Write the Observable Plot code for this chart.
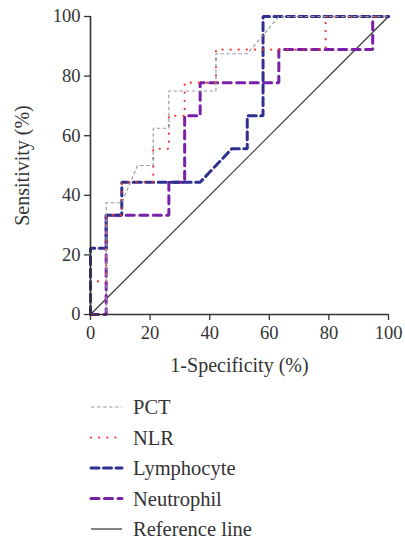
<!DOCTYPE html>
<html><head><meta charset="utf-8">
<script src="https://cdn.jsdelivr.net/npm/d3@7"></script>
<script src="https://cdn.jsdelivr.net/npm/@observablehq/plot@0.6"></script>
<style>
body{margin:0;background:#fff;}
#legend{display:block;}
</style></head><body><div id="chart"></div><div id="legendbox"></div>
<script>
// ROC curves, values in %
const pctX = [0, 5.26, 5.26, 10.5, 15.8, 21.05, 21.05, 26.3, 26.3, 42.1, 42.1, 52.6, 63.2, 100];
const pctY = [0, 0, 37.5, 37.5, 50, 50, 62.5, 62.5, 75, 75, 87.5, 87.5, 100, 100];
const nlrX = [0, 0, 5.26, 5.26, 10.5, 10.5, 21.05, 21.05, 26.3, 26.3, 31.6, 31.6, 42.1, 42.1, 78.9, 78.9, 100];
const nlrY = [0, 11.1, 11.1, 33.3, 33.3, 44.4, 44.4, 55.6, 55.6, 66.7, 66.7, 77.8, 77.8, 88.9, 88.9, 100, 100];
const lymX = [0, 0, 5.26, 5.26, 10.5, 10.5, 36.8, 47.4, 52.6, 52.6, 57.9, 57.9, 100];
const lymY = [0, 22.2, 22.2, 33.3, 33.3, 44.4, 44.4, 55.6, 55.6, 66.7, 66.7, 100, 100];
const neuX = [0, 5.26, 5.26, 26.3, 26.3, 31.6, 31.6, 36.8, 36.8, 63.2, 63.2, 94.7, 94.7, 100];
const neuY = [0, 0, 33.3, 33.3, 44.4, 44.4, 66.7, 66.7, 77.8, 77.8, 88.9, 88.9, 100, 100];
const refX = [0, 100];
const refY = [0, 100];
const xTicks = [0, 20, 40, 60, 80, 100];
const yTicks = [0, 20, 40, 60, 80, 100];
const seriesNames = ["PCT", "NLR", "Lymphocyte", "Neutrophil", "Reference line"];

const FONT = "'Liberation Serif', 'DejaVu Serif', serif";
const styles = {
  "PCT": {stroke: "#9a9a9a", strokeWidth: 1.2, strokeDasharray: "3.5,2.5", strokeLinecap: "butt"},
  "NLR": {stroke: "#e8382e", strokeWidth: 2.2, strokeDasharray: "0.1,8", strokeLinecap: "round"},
  "Lymphocyte": {stroke: "#2f2f8f", strokeWidth: 3, strokeDasharray: "8,4.5", strokeLinecap: "round"},
  "Neutrophil": {stroke: "#7a1fa8", strokeWidth: 3, strokeDasharray: "8,5.5", strokeLinecap: "round"},
  "Reference line": {stroke: "#333", strokeWidth: 1.2, strokeDasharray: null, strokeLinecap: "butt"}
};

const toRows = (xs, ys) => xs.map((x, i) => ({x, y: ys[i]}));
const dataBy = {
  "PCT": toRows(pctX, pctY),
  "NLR": toRows(nlrX, nlrY),
  "Lymphocyte": toRows(lymX, lymY),
  "Neutrophil": toRows(neuX, neuY),
  "Reference line": toRows(refX, refY)
};
const drawOrder = ["Reference line", "Neutrophil", "Lymphocyte", "NLR", "PCT"];

const chart = Plot.plot({
  width: 405,
  height: 385,
  marginLeft: 90,
  marginRight: 17,
  marginTop: 16,
  marginBottom: 71,
  style: {fontFamily: FONT, fontSize: "18.5px", color: "#333", background: "#fff"},
  x: {domain: [0, 100]},
  y: {domain: [0, 100]},
  marks: [
    ...drawOrder.map(name => {
      const s = styles[name];
      const o = {x: "x", y: "y", stroke: s.stroke, strokeWidth: s.strokeWidth, strokeLinecap: s.strokeLinecap, strokeLinejoin: "miter"};
      if (s.strokeDasharray) o.strokeDasharray = s.strokeDasharray;
      return Plot.line(dataBy[name], o);
    }),
    Plot.ruleX([0], {stroke: "#333", strokeWidth: 1.6}),
    Plot.ruleY([0], {stroke: "#333", strokeWidth: 1.6}),
    Plot.axisX({ticks: xTicks, tickSize: 6, tickPadding: 5, label: null, stroke: "#333", strokeWidth: 1.3}),
    Plot.axisY({ticks: yTicks, tickSize: 6, tickPadding: 4, label: null, stroke: "#333", strokeWidth: 1.3}),
    Plot.text(["1-Specificity (%)"], {frameAnchor: "bottom", dy: 51, textAnchor: "middle", lineAnchor: "middle", fontSize: 20, fill: "#333"}),
    Plot.text(["Sensitivity (%)"], {frameAnchor: "left", dx: -68, rotate: -90, textAnchor: "middle", lineAnchor: "middle", fontSize: 20, fill: "#333"})
  ]
});
document.getElementById("chart").appendChild(chart);

// legend below the chart, as its own SVG
const legendH = 154;
const lg = d3.select("#legendbox").append("svg")
  .attr("id", "legend")
  .attr("width", 405).attr("height", legendH)
  .attr("font-family", FONT);
seriesNames.forEach((name, i) => {
  const s = styles[name];
  const cy = 22 + i * 30.5;
  const ln = lg.append("line")
    .attr("x1", 91).attr("x2", 122).attr("y1", cy).attr("y2", cy)
    .attr("stroke", s.stroke).attr("stroke-width", s.strokeWidth)
    .attr("stroke-linecap", s.strokeLinecap);
  if (s.strokeDasharray) ln.attr("stroke-dasharray", s.strokeDasharray);
  lg.append("text")
    .attr("x", 133).attr("y", cy).attr("dy", "0.35em")
    .attr("font-size", 20.5).attr("fill", "#333")
    .text(name);
});
</script></body></html>
